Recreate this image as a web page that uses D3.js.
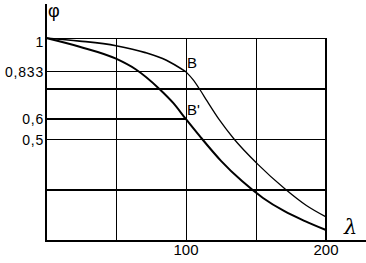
<!DOCTYPE html>
<html>
<head>
<meta charset="utf-8">
<script src="https://cdn.jsdelivr.net/npm/d3@7"></script>
<style>
    html, body { margin: 0; padding: 0; background: #fff; }
    svg { display: block; font-family: "Liberation Sans", Arial, sans-serif; }
</style>
</head>
<body>
<div id="chart"></div>
<script>
// data
const lambdaTicks = [100, 200]
const phiTicks = [1, 0.833, 0.6, 0.5]
const phiTickLabels = ['1', '0,833', '0,6', '0,5']

const gridThinLambda = [50, 100, 150]
const gridThinPhi = [1, 0.5]
const gridThickPhi = [0.75, 0.25]

// upper curve, split at B (it has a corner there)
const upperLambdaA = [0, 24, 50, 71, 86, 100]
const upperPhiA = [1, 0.985, 0.962, 0.928, 0.89, 0.833]
const upperLambdaB = [100, 105, 110, 115, 124, 134, 151, 171, 186, 200]
const upperPhiB = [0.833, 0.795, 0.745, 0.69, 0.595, 0.505, 0.38, 0.255, 0.175, 0.119]

const lowerLambda = [0, 24, 50, 64, 81, 91, 100, 110, 125, 140, 155, 170, 185, 200]
const lowerPhi = [1, 0.957, 0.898, 0.846, 0.749, 0.679, 0.6, 0.515, 0.395, 0.295, 0.212, 0.148, 0.098, 0.054]

const points = [
    {name: 'B', lambda: 100, phi: 0.833},
    {name: "B'", lambda: 100, phi: 0.6}
]

const width = 366
const height = 263

const x = d3.scaleLinear().domain([0, 200]).range([46, 326])
const y = d3.scaleLinear().domain([0, 1]).range([241, 38])

const svg = d3.select('#chart')
    .append('svg')
    .attr('width', width)
    .attr('height', height)

const grid = svg.append('g')
    .attr('stroke', '#000')
    .attr('shape-rendering', 'crispEdges')

// thin verticals
grid.selectAll('line.vthin')
    .data(gridThinLambda)
    .enter()
    .append('line')
    .attr('x1', d => x(d)).attr('x2', d => x(d))
    .attr('y1', y(1)).attr('y2', y(0))
    .attr('stroke-width', 1)

// thin full-width horizontals
grid.selectAll('line.hthin')
    .data(gridThinPhi)
    .enter()
    .append('line')
    .attr('x1', x(0)).attr('x2', x(200))
    .attr('y1', d => y(d)).attr('y2', d => y(d))
    .attr('stroke-width', 1)

// thick full-width horizontals
grid.selectAll('line.hthick')
    .data(gridThickPhi)
    .enter()
    .append('line')
    .attr('x1', x(0)).attr('x2', x(200))
    .attr('y1', d => y(d)).attr('y2', d => y(d))
    .attr('stroke-width', 2)

// lines from the axis to B and B'
grid.selectAll('line.toPoint')
    .data(points)
    .enter()
    .append('line')
    .attr('x1', x(0)).attr('x2', d => x(d.lambda))
    .attr('y1', d => y(d.phi)).attr('y2', d => y(d.phi))
    .attr('stroke-width', (d, i) => i === 0 ? 1 : 2)

// right border at 200
grid.append('line')
    .attr('x1', x(200)).attr('x2', x(200))
    .attr('y1', y(1)).attr('y2', y(0))
    .attr('stroke-width', 2)

// axes
grid.append('line')
    .attr('x1', x(0)).attr('x2', width)
    .attr('y1', y(0)).attr('y2', y(0))
    .attr('stroke-width', 2)

grid.append('line')
    .attr('x1', x(0)).attr('x2', x(0))
    .attr('y1', 4).attr('y2', y(0) + 1)
    .attr('stroke-width', 2)

// curves
const line = (lambdas, phis) => d3.line()
    .x(i => x(lambdas[i]))
    .y(i => y(phis[i]))
    .curve(d3.curveMonotoneX)(d3.range(lambdas.length))

svg.append('path')
    .attr('d', line(upperLambdaA, upperPhiA))
    .attr('fill', 'none')
    .attr('stroke', '#000')
    .attr('stroke-width', 1.7)

svg.append('path')
    .attr('d', line(upperLambdaB, upperPhiB))
    .attr('fill', 'none')
    .attr('stroke', '#000')
    .attr('stroke-width', 1.3)

svg.append('path')
    .attr('d', line(lowerLambda, lowerPhi))
    .attr('fill', 'none')
    .attr('stroke', '#000')
    .attr('stroke-width', 2)

// tick labels
svg.selectAll('text.ytick')
    .data(phiTicks)
    .enter()
    .append('text')
    .attr('x', 44)
    .attr('y', d => y(d))
    .attr('dy', (d, i) => i === 0 ? '0.62em' : '0.36em')
    .attr('text-anchor', 'end')
    .attr('font-size', 14)
    .attr('letter-spacing', 0.8)
    .text((d, i) => phiTickLabels[i])

svg.selectAll('text.xtick')
    .data(lambdaTicks)
    .enter()
    .append('text')
    .attr('x', d => x(d))
    .attr('y', 255)
    .attr('text-anchor', 'middle')
    .attr('font-size', 15)
    .text(d => d)

// point labels
svg.selectAll('text.point')
    .data(points)
    .enter()
    .append('text')
    .attr('x', d => x(d.lambda) + 1)
    .attr('y', d => y(d.phi) - 4)
    .attr('font-size', 15)
    .text(d => d.name)

// axis names
svg.append('text')
    .attr('x', 48)
    .attr('y', 17)
    .attr('font-size', 18)
    .text('φ')

svg.append('text')
    .attr('x', 344)
    .attr('y', 234)
    .attr('font-size', 21)
    .attr('font-style', 'italic')
    .attr('font-family', '"DejaVu Serif", serif')
    .text('λ')
</script>
</body>
</html>
